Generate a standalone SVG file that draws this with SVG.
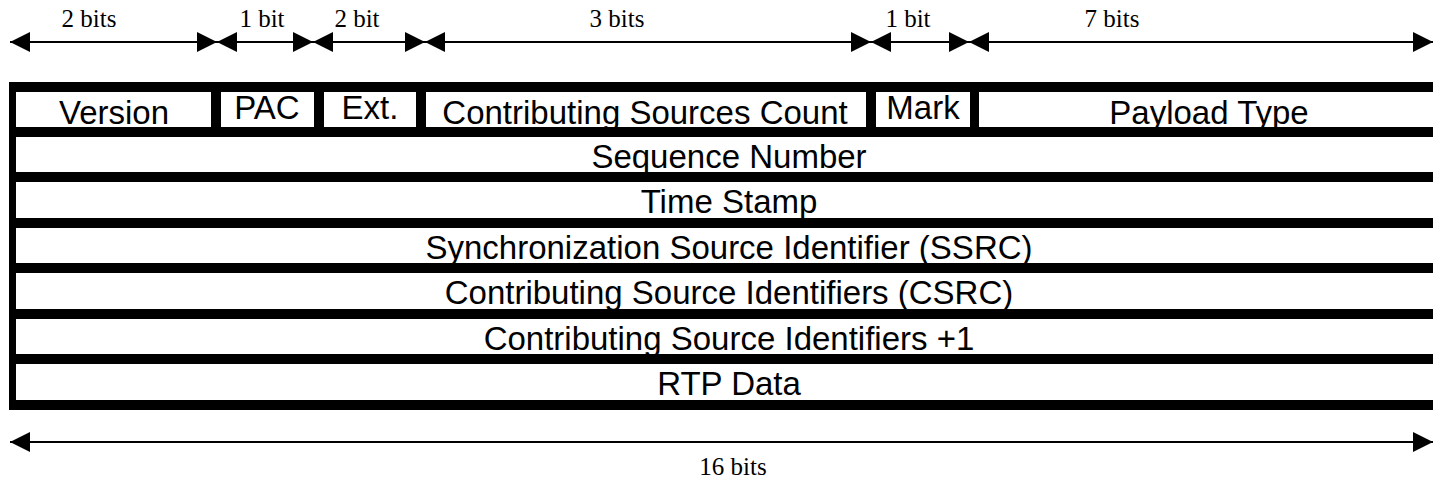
<svg xmlns="http://www.w3.org/2000/svg" width="1433" height="478" viewBox="0 0 1433 478">
  <style>
    .cell { fill: #ffffff; }
    .field { font-family: "Liberation Sans", Arial, sans-serif; font-size: 33px; fill: #000000; text-anchor: middle; }
    .dim { stroke: #000000; stroke-width: 2; fill: none; marker-start: url(#head); marker-end: url(#head); }
    .dimlabel { font-family: "Liberation Serif", "Times New Roman", serif; font-size: 25px; fill: #000000; text-anchor: middle; }
  </style>
  <defs>
    <marker id="head" markerUnits="userSpaceOnUse" markerWidth="20" markerHeight="20" refX="20" refY="10" orient="auto-start-reverse" viewBox="0 0 20 20">
      <path d="M0,0 L20,10 L0,20 z" fill="#000000"/>
    </marker>
  </defs>

  <rect x="0" y="0" width="1433" height="478" fill="#ffffff"/>

  <!-- header frame: black backing, fields are white cells on top -->
  <rect id="frame" x="9" y="82" width="1424" height="328" fill="#000000"/>

  <!-- first word: six fields -->
  <g id="version">
    <rect class="cell" x="16" y="92" width="195" height="35"/>
    <text class="field" x="114" y="124">Version</text>
  </g>
  <g id="pac">
    <rect class="cell" x="221" y="92" width="93" height="35"/>
    <text class="field" x="267" y="119">PAC</text>
  </g>
  <g id="ext">
    <rect class="cell" x="324" y="92" width="92" height="35"/>
    <text class="field" x="370" y="119">Ext.</text>
  </g>
  <g id="csrc-count">
    <rect class="cell" x="426" y="92" width="440" height="35"/>
    <text class="field" x="645" y="124">Contributing Sources Count</text>
  </g>
  <g id="mark">
    <rect class="cell" x="876" y="92" width="94" height="35"/>
    <text class="field" x="923" y="119">Mark</text>
  </g>
  <g id="payload-type">
    <rect class="cell" x="979" y="92" width="454" height="35"/>
    <text class="field" x="1209" y="124">Payload Type</text>
  </g>

  <!-- full-width rows -->
  <g id="sequence-number">
    <rect class="cell" x="16" y="137" width="1417" height="35"/>
    <text class="field" x="729" y="168">Sequence Number</text>
  </g>
  <g id="time-stamp">
    <rect class="cell" x="16" y="182" width="1417" height="36"/>
    <text class="field" x="729" y="213">Time Stamp</text>
  </g>
  <g id="ssrc">
    <rect class="cell" x="16" y="228" width="1417" height="35"/>
    <text class="field" x="729" y="259">Synchronization Source Identifier (SSRC)</text>
  </g>
  <g id="csrc">
    <rect class="cell" x="16" y="273" width="1417" height="36"/>
    <text class="field" x="729" y="304">Contributing Source Identifiers (CSRC)</text>
  </g>
  <g id="csrc-plus-one">
    <rect class="cell" x="16" y="319" width="1417" height="35"/>
    <text class="field" x="729" y="350">Contributing Source Identifiers +1</text>
  </g>
  <g id="rtp-data">
    <rect class="cell" x="16" y="364" width="1417" height="36"/>
    <text class="field" x="729" y="395">RTP Data</text>
  </g>

  <!-- bit-width dimension arrows -->
  <g id="connectors">
    <line class="dim" x1="10" y1="42" x2="217" y2="42"/>
    <line class="dim" x1="217" y1="42" x2="313" y2="42"/>
    <line class="dim" x1="313" y1="42" x2="425" y2="42"/>
    <line class="dim" x1="425" y1="42" x2="871" y2="42"/>
    <line class="dim" x1="871" y1="42" x2="969" y2="42"/>
    <line class="dim" x1="969" y1="42" x2="1433" y2="42"/>
    <line class="dim" x1="10" y1="442" x2="1433" y2="442"/>
  </g>

  <g id="dimension-labels">
    <text class="dimlabel" x="89" y="27">2 bits</text>
    <text class="dimlabel" x="262" y="27">1 bit</text>
    <text class="dimlabel" x="357" y="27">2 bit</text>
    <text class="dimlabel" x="617" y="27">3 bits</text>
    <text class="dimlabel" x="908" y="27">1 bit</text>
    <text class="dimlabel" x="1112" y="27">7 bits</text>
    <text class="dimlabel" x="733" y="475">16 bits</text>
  </g>
</svg>
